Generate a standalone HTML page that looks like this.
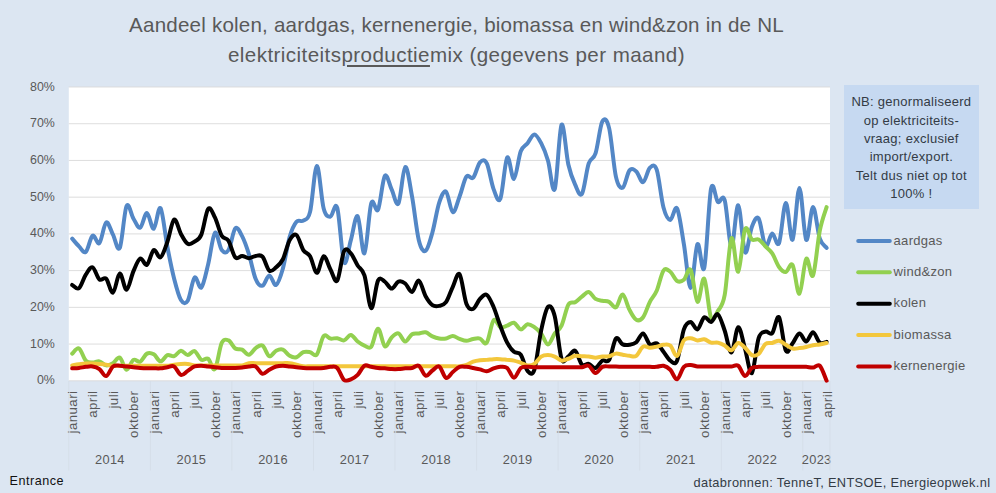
<!DOCTYPE html>
<html><head><meta charset="utf-8"><title>chart</title>
<style>
html,body{margin:0;padding:0;background:#dce6f2;}
body{width:996px;height:493px;position:relative;overflow:hidden;font-family:"Liberation Sans",sans-serif;}
svg text{font-family:"Liberation Sans",sans-serif;}
.title{position:absolute;left:0;width:913px;text-align:center;color:#595959;font-size:20.6px;line-height:24px;white-space:nowrap;}
.title u{text-decoration-thickness:1.5px;text-underline-offset:2.5px;}
.t1{top:13.3px;letter-spacing:0.19px;}
.t2{top:42.5px;letter-spacing:0.42px;}
.note{position:absolute;left:844px;top:85.3px;width:134.7px;height:123.7px;background:#c6d9f1;color:#333b45;font-size:13px;letter-spacing:0.28px;line-height:18.4px;text-align:center;box-sizing:border-box;padding-top:7.8px;white-space:nowrap;}
.ent{position:absolute;left:9.6px;top:474px;font-size:12.6px;line-height:15px;letter-spacing:0.5px;color:#111;}
.src{position:absolute;left:693.5px;top:474.6px;font-size:12.8px;line-height:15px;letter-spacing:0.35px;color:#333b45;white-space:nowrap;}
</style></head><body>
<svg width="996" height="493" viewBox="0 0 996 493" style="position:absolute;left:0;top:0">
<rect x="0" y="0" width="996" height="493" fill="#dce6f2"/>
<rect x="68.8" y="87.0" width="761.2" height="293.8" fill="#ffffff"/>
<line x1="68.8" y1="380.80" x2="830.0" y2="380.80" stroke="#d9d9d9" stroke-width="0.9"/>
<line x1="68.8" y1="344.07" x2="830.0" y2="344.07" stroke="#d9d9d9" stroke-width="0.9"/>
<line x1="68.8" y1="307.35" x2="830.0" y2="307.35" stroke="#d9d9d9" stroke-width="0.9"/>
<line x1="68.8" y1="270.62" x2="830.0" y2="270.62" stroke="#d9d9d9" stroke-width="0.9"/>
<line x1="68.8" y1="233.90" x2="830.0" y2="233.90" stroke="#d9d9d9" stroke-width="0.9"/>
<line x1="68.8" y1="197.18" x2="830.0" y2="197.18" stroke="#d9d9d9" stroke-width="0.9"/>
<line x1="68.8" y1="160.45" x2="830.0" y2="160.45" stroke="#d9d9d9" stroke-width="0.9"/>
<line x1="68.8" y1="123.73" x2="830.0" y2="123.73" stroke="#d9d9d9" stroke-width="0.9"/>
<line x1="68.8" y1="87.00" x2="830.0" y2="87.00" stroke="#d9d9d9" stroke-width="0.9"/>
<text x="54.8" y="384.3" text-anchor="end" font-size="12.4" fill="#595959">0%</text>
<text x="54.8" y="347.6" text-anchor="end" font-size="12.4" fill="#595959">10%</text>
<text x="54.8" y="310.9" text-anchor="end" font-size="12.4" fill="#595959">20%</text>
<text x="54.8" y="274.1" text-anchor="end" font-size="12.4" fill="#595959">30%</text>
<text x="54.8" y="237.4" text-anchor="end" font-size="12.4" fill="#595959">40%</text>
<text x="54.8" y="200.7" text-anchor="end" font-size="12.4" fill="#595959">50%</text>
<text x="54.8" y="164.0" text-anchor="end" font-size="12.4" fill="#595959">60%</text>
<text x="54.8" y="127.2" text-anchor="end" font-size="12.4" fill="#595959">70%</text>
<text x="54.8" y="90.5" text-anchor="end" font-size="12.4" fill="#595959">80%</text>
<defs><clipPath id="cp"><rect x="65.8" y="84.0" width="767.2" height="298.8"/></clipPath></defs>
<g fill="none" stroke-linecap="round" stroke-linejoin="round" stroke-width="4.0" clip-path="url(#cp)">
<path d="M72.20 238.67C73.33 239.96 76.73 244.18 78.99 246.39C81.26 248.59 83.53 253.67 85.79 251.90C88.06 250.12 90.32 237.21 92.59 235.74C94.85 234.27 97.12 245.28 99.38 243.08C101.65 240.88 103.91 223.92 106.18 222.52C108.45 221.11 110.71 230.41 112.98 234.63C115.24 238.86 117.51 252.63 119.77 247.86C122.04 243.08 124.30 210.89 126.57 205.99C128.84 201.09 131.10 214.86 133.37 218.48C135.63 222.09 137.90 228.57 140.16 227.66C142.43 226.74 144.69 212.78 146.96 212.97C149.22 213.15 151.49 229.55 153.76 228.76C156.02 227.96 158.29 205.19 160.55 208.19C162.82 211.19 165.08 235.00 167.35 246.75C169.61 258.51 171.88 269.83 174.14 278.70C176.41 287.58 178.68 296.33 180.94 300.00C183.21 303.68 185.47 304.47 187.74 300.74C190.00 297.01 192.27 279.81 194.53 277.60C196.80 275.40 199.06 289.72 201.33 287.52C203.60 285.31 205.86 273.50 208.13 264.38C210.39 255.26 212.66 235.19 214.92 232.80C217.19 230.41 219.45 247.18 221.72 250.06C223.99 252.94 226.25 253.67 228.52 250.06C230.78 246.45 233.05 230.72 235.31 228.39C237.58 226.07 239.84 231.82 242.11 236.10C244.37 240.39 246.64 246.94 248.91 254.10C251.17 261.26 253.44 273.81 255.70 279.07C257.97 284.34 260.23 286.29 262.50 285.68C264.76 285.07 267.03 275.52 269.29 275.40C271.56 275.28 273.83 286.11 276.09 284.95C278.36 283.78 280.62 276.44 282.89 268.42C285.15 260.40 287.42 244.61 289.68 236.84C291.95 229.06 294.21 224.47 296.48 221.78C298.75 219.09 301.01 222.33 303.28 220.68C305.54 219.03 307.81 220.99 310.07 211.87C312.34 202.74 314.60 166.51 316.87 165.96C319.14 165.41 321.40 200.11 323.67 208.56C325.93 217.01 328.20 216.76 330.46 216.64C332.73 216.52 334.99 200.24 337.26 207.83C339.52 215.42 341.79 256.79 344.06 262.18C346.32 267.56 348.59 247.79 350.85 240.14C353.12 232.49 355.38 214.07 357.65 216.27C359.91 218.48 362.18 255.51 364.44 253.36C366.71 251.22 368.98 210.70 371.24 203.42C373.51 196.13 375.77 214.25 378.04 209.66C380.30 205.07 382.57 179.24 384.83 175.87C387.10 172.51 389.36 184.87 391.63 189.46C393.90 194.05 396.16 207.15 398.43 203.42C400.69 199.68 402.96 168.22 405.22 167.06C407.49 165.90 409.75 184.26 412.02 196.44C414.29 208.62 416.55 231.08 418.82 240.14C421.08 249.20 423.35 252.08 425.61 250.79C427.88 249.51 430.14 240.45 432.41 232.43C434.67 224.41 436.94 209.48 439.21 202.68C441.47 195.89 443.74 190.07 446.00 191.67C448.27 193.26 450.53 211.44 452.80 212.23C455.06 213.03 457.33 202.38 459.59 196.44C461.86 190.50 464.13 179.73 466.39 176.61C468.66 173.49 470.92 180.10 473.19 177.71C475.45 175.32 477.72 164.67 479.98 162.29C482.25 159.90 484.51 158.92 486.78 163.39C489.05 167.86 491.31 183.22 493.58 189.10C495.84 194.97 498.11 203.91 500.37 198.64C502.64 193.38 504.90 160.82 507.17 157.51C509.44 154.21 511.70 179.85 513.97 178.81C516.23 177.77 518.50 157.21 520.76 151.27C523.03 145.33 525.29 146.00 527.56 143.19C529.82 140.37 532.09 134.38 534.36 134.38C536.62 134.38 538.89 138.84 541.15 143.19C543.42 147.54 545.68 152.80 547.95 160.45C550.21 168.10 552.48 195.03 554.74 189.10C557.01 183.16 559.28 128.93 561.54 124.83C563.81 120.73 566.07 154.51 568.34 164.49C570.60 174.47 572.87 179.79 575.13 184.69C577.40 189.59 579.66 197.42 581.93 193.87C584.20 190.32 586.46 170.12 588.73 163.39C590.99 156.66 593.26 160.45 595.52 153.47C597.79 146.49 600.05 125.74 602.32 121.52C604.59 117.30 606.85 118.95 609.12 128.13C611.38 137.31 613.65 166.69 615.91 176.61C618.18 186.52 620.44 188.67 622.71 187.63C624.97 186.59 627.24 173.06 629.51 170.37C631.77 167.67 634.04 169.51 636.30 171.47C638.57 173.43 640.83 182.73 643.10 182.12C645.36 181.51 647.63 169.88 649.89 167.79C652.16 165.71 654.43 163.02 656.69 169.63C658.96 176.24 661.22 199.07 663.49 207.46C665.75 215.84 668.02 219.76 670.28 219.94C672.55 220.13 674.81 204.52 677.08 208.56C679.35 212.60 681.61 230.96 683.88 244.18C686.14 257.40 688.41 287.89 690.67 287.89C692.94 287.89 695.20 247.55 697.47 244.18C699.74 240.82 702.00 276.93 704.27 267.69C706.53 258.44 708.80 199.68 711.06 188.73C713.33 177.77 715.59 200.05 717.86 201.95C720.12 203.85 722.39 192.71 724.66 200.11C726.92 207.52 729.19 245.53 731.45 246.39C733.72 247.24 735.98 204.28 738.25 205.25C740.51 206.23 742.78 248.65 745.04 252.26C747.31 255.87 749.58 232.55 751.84 226.92C754.11 221.29 756.37 215.29 758.64 218.48C760.90 221.66 763.17 243.51 765.43 246.02C767.70 248.53 769.96 234.02 772.23 233.53C774.50 233.04 776.76 248.16 779.03 243.08C781.29 238.00 783.56 203.60 785.82 203.05C788.09 202.50 790.35 242.29 792.62 239.78C794.89 237.27 797.15 187.99 799.42 187.99C801.68 187.99 803.95 236.59 806.21 239.78C808.48 242.96 810.74 207.27 813.01 207.09C815.27 206.91 817.54 231.88 819.81 238.67C822.07 245.47 825.47 246.33 826.60 247.86" stroke="#5387c6"/>
<path d="M72.20 353.62C73.33 352.77 76.73 347.32 78.99 348.48C81.26 349.64 83.53 358.28 85.79 360.60C88.06 362.93 90.32 362.32 92.59 362.44C94.85 362.56 97.12 360.85 99.38 361.34C101.65 361.83 103.91 365.07 106.18 365.38C108.45 365.68 110.71 364.46 112.98 363.17C115.24 361.89 117.51 356.56 119.77 357.66C122.04 358.76 124.30 369.42 126.57 369.78C128.84 370.15 131.10 361.21 133.37 359.87C135.63 358.52 137.90 362.74 140.16 361.70C142.43 360.66 144.69 354.85 146.96 353.62C149.22 352.40 151.49 353.07 153.76 354.36C156.02 355.64 158.29 361.21 160.55 361.34C162.82 361.46 165.08 355.95 167.35 355.09C169.61 354.24 171.88 356.93 174.14 356.19C176.41 355.46 178.68 350.87 180.94 350.69C183.21 350.50 185.47 355.03 187.74 355.09C190.00 355.15 192.27 350.26 194.53 351.05C196.80 351.85 199.06 358.58 201.33 359.87C203.60 361.15 205.86 357.23 208.13 358.76C210.39 360.30 212.66 371.68 214.92 369.05C217.19 366.42 219.45 347.75 221.72 342.97C223.99 338.20 226.25 339.48 228.52 340.40C230.78 341.32 233.05 346.95 235.31 348.48C237.58 350.01 239.84 348.54 242.11 349.58C244.37 350.62 246.64 354.97 248.91 354.73C251.17 354.48 253.44 349.64 255.70 348.11C257.97 346.58 260.23 344.20 262.50 345.54C264.76 346.89 267.03 355.34 269.29 356.19C271.56 357.05 273.83 351.79 276.09 350.69C278.36 349.58 280.62 348.73 282.89 349.58C285.15 350.44 287.42 354.54 289.68 355.83C291.95 357.11 294.21 357.91 296.48 357.30C298.75 356.68 301.01 353.01 303.28 352.15C305.54 351.30 307.81 351.79 310.07 352.15C312.34 352.52 314.60 357.05 316.87 354.36C319.14 351.66 321.40 338.63 323.67 336.00C325.93 333.36 328.20 338.20 330.46 338.57C332.73 338.93 334.99 337.89 337.26 338.20C339.52 338.51 341.79 340.95 344.06 340.40C346.32 339.85 348.59 334.71 350.85 334.89C353.12 335.08 355.38 339.73 357.65 341.50C359.91 343.28 362.18 344.69 364.44 345.54C366.71 346.40 368.98 349.46 371.24 346.65C373.51 343.83 375.77 328.71 378.04 328.65C380.30 328.59 382.57 344.81 384.83 346.28C387.10 347.75 389.36 339.61 391.63 337.46C393.90 335.32 396.16 332.75 398.43 333.42C400.69 334.10 402.96 341.38 405.22 341.50C407.49 341.63 409.75 335.51 412.02 334.16C414.29 332.81 416.55 333.73 418.82 333.42C421.08 333.12 423.35 331.83 425.61 332.32C427.88 332.81 430.14 335.32 432.41 336.36C434.67 337.40 436.94 338.20 439.21 338.57C441.47 338.93 443.74 338.99 446.00 338.57C448.27 338.14 450.53 335.93 452.80 336.00C455.06 336.06 457.33 338.14 459.59 338.93C461.86 339.73 464.13 340.77 466.39 340.77C468.66 340.77 470.92 339.30 473.19 338.93C475.45 338.57 477.72 337.95 479.98 338.57C482.25 339.18 484.51 345.67 486.78 342.61C489.05 339.55 491.31 322.77 493.58 320.20C495.84 317.63 498.11 326.26 500.37 327.18C502.64 328.10 504.90 326.45 507.17 325.71C509.44 324.98 511.70 322.16 513.97 322.77C516.23 323.39 518.50 329.14 520.76 329.38C523.03 329.63 525.29 324.61 527.56 324.24C529.82 323.88 532.09 325.65 534.36 327.18C536.62 328.71 538.89 330.55 541.15 333.42C543.42 336.30 545.68 344.44 547.95 344.44C550.21 344.44 552.48 336.55 554.74 333.42C557.01 330.30 559.28 330.49 561.54 325.71C563.81 320.94 566.07 308.70 568.34 304.78C570.60 300.86 572.87 303.56 575.13 302.21C577.40 300.86 579.66 298.41 581.93 296.70C584.20 294.99 586.46 291.56 588.73 291.93C590.99 292.29 593.26 297.43 595.52 298.90C597.79 300.37 600.05 300.25 602.32 300.74C604.59 301.23 606.85 300.74 609.12 301.84C611.38 302.94 613.65 308.57 615.91 307.35C618.18 306.13 620.44 294.07 622.71 294.50C624.97 294.92 627.24 305.70 629.51 309.92C631.77 314.14 634.04 318.61 636.30 319.84C638.57 321.06 640.83 320.26 643.10 317.27C645.36 314.27 647.63 306.25 649.89 301.84C652.16 297.43 654.43 296.03 656.69 290.82C658.96 285.62 661.22 273.81 663.49 270.62C665.75 267.44 668.02 270.01 670.28 271.73C672.55 273.44 674.81 279.56 677.08 280.91C679.35 282.25 681.61 281.64 683.88 279.81C686.14 277.97 688.41 266.22 690.67 269.89C692.94 273.56 695.20 300.37 697.47 301.84C699.74 303.31 702.00 276.01 704.27 278.70C706.53 281.40 708.80 312.61 711.06 318.00C713.33 323.39 715.59 314.82 717.86 311.02C720.12 307.23 722.39 307.35 724.66 295.23C726.92 283.11 729.19 242.22 731.45 238.31C733.72 234.39 735.98 273.26 738.25 271.73C740.51 270.20 742.78 234.51 745.04 229.13C747.31 223.74 749.58 237.69 751.84 239.41C754.11 241.12 756.37 238.25 758.64 239.41C760.90 240.57 763.17 244.06 765.43 246.39C767.70 248.71 769.96 249.94 772.23 253.36C774.50 256.79 776.76 263.83 779.03 266.95C781.29 270.07 783.56 272.40 785.82 272.09C788.09 271.79 790.35 261.50 792.62 265.12C794.89 268.73 797.15 294.80 799.42 293.76C801.68 292.72 803.95 261.93 806.21 258.87C808.48 255.81 810.74 280.11 813.01 275.40C815.27 270.69 817.54 241.98 819.81 230.59C822.07 219.21 825.47 211.01 826.60 207.09" stroke="#92d050"/>
<path d="M72.20 284.95C73.33 285.50 76.73 289.97 78.99 288.25C81.26 286.54 83.53 278.15 85.79 274.66C88.06 271.18 90.32 266.52 92.59 267.32C94.85 268.12 97.12 277.54 99.38 279.44C101.65 281.34 103.91 276.50 106.18 278.70C108.45 280.91 110.71 293.52 112.98 292.66C115.24 291.80 117.51 274.05 119.77 273.56C122.04 273.07 124.30 290.09 126.57 289.72C128.84 289.35 131.10 276.56 133.37 271.36C135.63 266.16 137.90 259.61 140.16 258.51C142.43 257.40 144.69 266.16 146.96 264.75C149.22 263.34 151.49 251.28 153.76 250.06C156.02 248.83 158.29 258.75 160.55 257.40C162.82 256.06 165.08 248.28 167.35 241.98C169.61 235.68 171.88 220.92 174.14 219.58C176.41 218.23 178.68 229.86 180.94 233.90C183.21 237.94 185.47 242.53 187.74 243.82C190.00 245.10 192.27 243.14 194.53 241.61C196.80 240.08 199.06 240.08 201.33 234.63C203.60 229.19 205.86 211.80 208.13 208.93C210.39 206.05 212.66 212.91 214.92 217.37C217.19 221.84 219.45 231.82 221.72 235.74C223.99 239.65 226.25 237.27 228.52 240.88C230.78 244.49 233.05 254.89 235.31 257.40C237.58 259.91 239.84 255.81 242.11 255.94C244.37 256.06 246.64 258.14 248.91 258.14C251.17 258.14 253.44 256.18 255.70 255.94C257.97 255.69 260.23 254.22 262.50 256.67C264.76 259.12 267.03 268.85 269.29 270.62C271.56 272.40 273.83 269.22 276.09 267.32C278.36 265.42 280.62 263.77 282.89 259.24C285.15 254.71 287.42 244.18 289.68 240.14C291.95 236.10 294.21 233.35 296.48 235.00C298.75 236.65 301.01 246.51 303.28 250.06C305.54 253.61 307.81 252.51 310.07 256.30C312.34 260.10 314.60 272.83 316.87 272.83C319.14 272.83 321.40 256.85 323.67 256.30C325.93 255.75 328.20 265.48 330.46 269.52C332.73 273.56 334.99 283.60 337.26 280.54C339.52 277.48 341.79 255.69 344.06 251.16C346.32 246.63 348.59 250.98 350.85 253.36C353.12 255.75 355.38 261.81 357.65 265.48C359.91 269.16 362.18 268.30 364.44 275.40C366.71 282.50 368.98 307.23 371.24 308.08C373.51 308.94 375.77 284.95 378.04 280.54C380.30 276.13 382.57 280.30 384.83 281.64C387.10 282.99 389.36 288.62 391.63 288.62C393.90 288.62 396.16 282.50 398.43 281.64C400.69 280.79 402.96 281.76 405.22 283.48C407.49 285.19 409.75 292.42 412.02 291.93C414.29 291.44 416.55 279.81 418.82 280.54C421.08 281.28 423.35 292.23 425.61 296.33C427.88 300.43 430.14 303.56 432.41 305.15C434.67 306.74 436.94 306.37 439.21 305.88C441.47 305.39 443.74 305.39 446.00 302.21C448.27 299.03 450.53 291.44 452.80 286.78C455.06 282.13 457.33 271.48 459.59 274.30C461.86 277.11 464.13 297.92 466.39 303.68C468.66 309.43 470.92 309.61 473.19 308.82C475.45 308.02 477.72 301.23 479.98 298.90C482.25 296.58 484.51 293.52 486.78 294.86C489.05 296.21 491.31 301.78 493.58 306.98C495.84 312.19 498.11 320.14 500.37 326.08C502.64 332.02 504.90 338.32 507.17 342.61C509.44 346.89 511.70 349.77 513.97 351.79C516.23 353.81 518.50 351.54 520.76 354.73C523.03 357.91 525.29 368.37 527.56 370.88C529.82 373.39 532.09 376.52 534.36 369.78C536.62 363.05 538.89 340.95 541.15 330.49C543.42 320.02 545.68 309.37 547.95 306.98C550.21 304.60 552.48 307.53 554.74 316.16C557.01 324.79 559.28 352.03 561.54 358.76C563.81 365.50 566.07 357.91 568.34 356.56C570.60 355.21 572.87 349.34 575.13 350.69C577.40 352.03 579.66 362.44 581.93 364.64C584.20 366.84 586.46 363.36 588.73 363.91C590.99 364.46 593.26 368.50 595.52 367.95C597.79 367.40 600.05 361.95 602.32 360.60C604.59 359.25 606.85 363.54 609.12 359.87C611.38 356.19 613.65 341.14 615.91 338.57C618.18 336.00 620.44 343.40 622.71 344.44C624.97 345.48 627.24 345.18 629.51 344.81C631.77 344.44 634.04 344.14 636.30 342.24C638.57 340.34 640.83 333.06 643.10 333.42C645.36 333.79 647.63 342.79 649.89 344.44C652.16 346.09 654.43 342.12 656.69 343.34C658.96 344.56 661.22 348.91 663.49 351.79C665.75 354.66 668.02 359.13 670.28 360.60C672.55 362.07 674.81 365.80 677.08 360.60C679.35 355.40 681.61 335.81 683.88 329.38C686.14 322.96 688.41 322.04 690.67 322.04C692.94 322.04 695.20 330.18 697.47 329.38C699.74 328.59 702.00 318.49 704.27 317.27C706.53 316.04 708.80 322.53 711.06 322.04C713.33 321.55 715.59 312.92 717.86 314.33C720.12 315.74 722.39 324.12 724.66 330.49C726.92 336.85 729.19 353.07 731.45 352.52C733.72 351.97 735.98 327.79 738.25 327.18C740.51 326.57 742.78 341.20 745.04 348.85C747.31 356.50 749.58 374.86 751.84 373.09C754.11 371.31 756.37 345.12 758.64 338.20C760.90 331.28 763.17 332.45 765.43 331.59C767.70 330.73 769.96 335.44 772.23 333.06C774.50 330.67 776.76 314.33 779.03 317.27C781.29 320.20 783.56 346.34 785.82 350.69C788.09 355.03 790.35 346.22 792.62 343.34C794.89 340.46 797.15 333.73 799.42 333.42C801.68 333.12 803.95 341.69 806.21 341.50C808.48 341.32 810.74 332.14 813.01 332.32C815.27 332.51 817.54 341.01 819.81 342.61C822.07 344.20 825.47 341.99 826.60 341.87" stroke="#000000"/>
<path d="M72.20 365.38C73.33 365.19 76.73 364.58 78.99 364.27C81.26 363.97 83.53 363.66 85.79 363.54C88.06 363.42 90.32 363.48 92.59 363.54C94.85 363.60 97.12 363.72 99.38 363.91C101.65 364.09 103.91 364.33 106.18 364.64C108.45 364.95 110.71 365.56 112.98 365.74C115.24 365.93 117.51 365.74 119.77 365.74C122.04 365.74 124.30 365.74 126.57 365.74C128.84 365.74 131.10 365.74 133.37 365.74C135.63 365.74 137.90 365.74 140.16 365.74C142.43 365.74 144.69 365.74 146.96 365.74C149.22 365.74 151.49 365.74 153.76 365.74C156.02 365.74 158.29 365.74 160.55 365.74C162.82 365.74 165.08 365.93 167.35 365.74C169.61 365.56 171.88 364.95 174.14 364.64C176.41 364.33 178.68 364.03 180.94 363.91C183.21 363.78 185.47 363.66 187.74 363.91C190.00 364.15 192.27 365.13 194.53 365.38C196.80 365.62 199.06 365.38 201.33 365.38C203.60 365.38 205.86 365.38 208.13 365.38C210.39 365.38 212.66 365.38 214.92 365.38C217.19 365.38 219.45 365.38 221.72 365.38C223.99 365.38 226.25 365.38 228.52 365.38C230.78 365.38 233.05 365.38 235.31 365.38C237.58 365.38 239.84 365.74 242.11 365.38C244.37 365.01 246.64 363.54 248.91 363.17C251.17 362.80 253.44 363.17 255.70 363.17C257.97 363.17 260.23 363.17 262.50 363.17C264.76 363.17 267.03 363.17 269.29 363.17C271.56 363.17 273.83 363.17 276.09 363.17C278.36 363.17 280.62 363.17 282.89 363.17C285.15 363.17 287.42 362.93 289.68 363.17C291.95 363.42 294.21 364.12 296.48 364.64C298.75 365.16 301.01 366.02 303.28 366.29C305.54 366.57 307.81 366.29 310.07 366.29C312.34 366.29 314.60 366.29 316.87 366.29C319.14 366.29 321.40 366.29 323.67 366.29C325.93 366.29 328.20 366.29 330.46 366.29C332.73 366.29 334.99 366.29 337.26 366.29C339.52 366.29 341.79 366.29 344.06 366.29C346.32 366.29 348.59 366.29 350.85 366.29C353.12 366.29 355.38 366.29 357.65 366.29C359.91 366.29 362.18 366.29 364.44 366.29C366.71 366.29 368.98 366.29 371.24 366.29C373.51 366.29 375.77 366.29 378.04 366.29C380.30 366.29 382.57 366.29 384.83 366.29C387.10 366.29 389.36 366.29 391.63 366.29C393.90 366.29 396.16 366.29 398.43 366.29C400.69 366.29 402.96 366.29 405.22 366.29C407.49 366.29 409.75 366.29 412.02 366.29C414.29 366.29 416.55 366.29 418.82 366.29C421.08 366.29 423.35 366.29 425.61 366.29C427.88 366.29 430.14 366.29 432.41 366.29C434.67 366.29 436.94 366.29 439.21 366.29C441.47 366.29 443.74 366.29 446.00 366.29C448.27 366.29 450.53 366.29 452.80 366.29C455.06 366.29 457.33 366.51 459.59 366.29C461.86 366.08 464.13 365.77 466.39 365.01C468.66 364.24 470.92 362.50 473.19 361.70C475.45 360.91 477.72 360.54 479.98 360.23C482.25 359.93 484.51 360.05 486.78 359.87C489.05 359.68 491.31 359.25 493.58 359.13C495.84 359.01 498.11 359.01 500.37 359.13C502.64 359.25 504.90 359.62 507.17 359.87C509.44 360.11 511.70 360.11 513.97 360.60C516.23 361.09 518.50 362.01 520.76 362.80C523.03 363.60 525.29 365.19 527.56 365.38C529.82 365.56 532.09 365.38 534.36 363.91C536.62 362.44 538.89 358.03 541.15 356.56C543.42 355.09 545.68 355.09 547.95 355.09C550.21 355.09 552.48 355.64 554.74 356.56C557.01 357.48 559.28 360.23 561.54 360.60C563.81 360.97 566.07 359.56 568.34 358.76C570.60 357.97 572.87 356.26 575.13 355.83C577.40 355.40 579.66 356.07 581.93 356.19C584.20 356.32 586.46 356.32 588.73 356.56C590.99 356.81 593.26 357.66 595.52 357.66C597.79 357.66 600.05 356.81 602.32 356.56C604.59 356.32 606.85 356.68 609.12 356.19C611.38 355.70 613.65 353.87 615.91 353.62C618.18 353.38 620.44 354.36 622.71 354.73C624.97 355.09 627.24 355.64 629.51 355.83C631.77 356.01 634.04 357.36 636.30 355.83C638.57 354.30 640.83 347.99 643.10 346.65C645.36 345.30 647.63 347.75 649.89 347.75C652.16 347.75 654.43 347.14 656.69 346.65C658.96 346.16 661.22 344.99 663.49 344.81C665.75 344.63 668.02 343.71 670.28 345.54C672.55 347.38 674.81 356.68 677.08 355.83C679.35 354.97 681.61 343.34 683.88 340.40C686.14 337.46 688.41 338.20 690.67 338.20C692.94 338.20 695.20 340.22 697.47 340.40C699.74 340.59 702.00 338.93 704.27 339.30C706.53 339.67 708.80 342.06 711.06 342.61C713.33 343.16 715.59 342.12 717.86 342.61C720.12 343.10 722.39 344.26 724.66 345.54C726.92 346.83 729.19 350.75 731.45 350.32C733.72 349.89 735.98 343.40 738.25 342.97C740.51 342.54 742.78 345.73 745.04 347.75C747.31 349.77 749.58 354.05 751.84 355.09C754.11 356.13 756.37 355.83 758.64 353.99C760.90 352.15 763.17 345.91 765.43 344.07C767.70 342.24 769.96 343.52 772.23 342.97C774.50 342.42 776.76 340.46 779.03 340.77C781.29 341.08 783.56 343.52 785.82 344.81C788.09 346.09 790.35 347.93 792.62 348.48C794.89 349.03 797.15 348.36 799.42 348.11C801.68 347.87 803.95 347.50 806.21 347.01C808.48 346.52 810.74 345.61 813.01 345.18C815.27 344.75 817.54 344.81 819.81 344.44C822.07 344.07 825.47 343.22 826.60 342.97" stroke="#f3c73c"/>
<path d="M72.20 368.31C73.33 368.25 76.73 368.19 78.99 367.95C81.26 367.70 83.53 367.09 85.79 366.84C88.06 366.60 90.32 366.11 92.59 366.48C94.85 366.84 97.12 367.46 99.38 369.05C101.65 370.64 103.91 376.45 106.18 376.03C108.45 375.60 110.71 368.19 112.98 366.48C115.24 364.76 117.51 365.74 119.77 365.74C122.04 365.74 124.30 366.23 126.57 366.48C128.84 366.72 131.10 366.97 133.37 367.21C135.63 367.46 137.90 367.76 140.16 367.95C142.43 368.13 144.69 368.25 146.96 368.31C149.22 368.37 151.49 368.31 153.76 368.31C156.02 368.31 158.29 368.50 160.55 368.31C162.82 368.13 165.08 367.52 167.35 367.21C169.61 366.91 171.88 365.19 174.14 366.48C176.41 367.76 178.68 374.19 180.94 374.92C183.21 375.66 185.47 372.29 187.74 370.88C190.00 369.48 192.27 367.33 194.53 366.48C196.80 365.62 199.06 365.74 201.33 365.74C203.60 365.74 205.86 366.23 208.13 366.48C210.39 366.72 212.66 366.97 214.92 367.21C217.19 367.46 219.45 367.82 221.72 367.95C223.99 368.07 226.25 367.95 228.52 367.95C230.78 367.95 233.05 368.01 235.31 367.95C237.58 367.89 239.84 367.82 242.11 367.58C244.37 367.33 246.64 366.66 248.91 366.48C251.17 366.29 253.44 365.25 255.70 366.48C257.97 367.70 260.23 373.27 262.50 373.82C264.76 374.37 267.03 371.01 269.29 369.78C271.56 368.56 273.83 367.15 276.09 366.48C278.36 365.80 280.62 365.74 282.89 365.74C285.15 365.74 287.42 366.23 289.68 366.48C291.95 366.72 294.21 366.97 296.48 367.21C298.75 367.46 301.01 367.76 303.28 367.95C305.54 368.13 307.81 368.25 310.07 368.31C312.34 368.37 314.60 368.37 316.87 368.31C319.14 368.25 321.40 368.19 323.67 367.95C325.93 367.70 328.20 366.84 330.46 366.84C332.73 366.84 334.99 365.74 337.26 367.95C339.52 370.15 341.79 378.17 344.06 380.07C346.32 381.96 348.59 380.19 350.85 379.33C353.12 378.47 355.38 377.19 357.65 374.92C359.91 372.66 362.18 367.09 364.44 365.74C366.71 364.40 368.98 366.48 371.24 366.84C373.51 367.21 375.77 367.70 378.04 367.95C380.30 368.19 382.57 368.13 384.83 368.31C387.10 368.50 389.36 368.93 391.63 369.05C393.90 369.17 396.16 369.17 398.43 369.05C400.69 368.93 402.96 368.50 405.22 368.31C407.49 368.13 409.75 368.37 412.02 367.95C414.29 367.52 416.55 364.46 418.82 365.74C421.08 367.03 423.35 374.86 425.61 375.66C427.88 376.45 430.14 372.05 432.41 370.52C434.67 368.99 436.94 365.25 439.21 366.48C441.47 367.70 443.74 376.94 446.00 377.86C448.27 378.78 450.53 373.82 452.80 371.99C455.06 370.15 457.33 367.70 459.59 366.84C461.86 365.99 464.13 366.66 466.39 366.84C468.66 367.03 470.92 367.52 473.19 367.95C475.45 368.37 477.72 368.86 479.98 369.42C482.25 369.97 484.51 371.44 486.78 371.25C489.05 371.07 491.31 369.05 493.58 368.31C495.84 367.58 498.11 366.91 500.37 366.84C502.64 366.78 504.90 366.11 507.17 367.95C509.44 369.78 511.70 377.86 513.97 377.86C516.23 377.86 518.50 369.78 520.76 367.95C523.03 366.11 525.29 366.97 527.56 366.84C529.82 366.72 532.09 367.15 534.36 367.21C536.62 367.27 538.89 367.21 541.15 367.21C543.42 367.21 545.68 367.21 547.95 367.21C550.21 367.21 552.48 367.21 554.74 367.21C557.01 367.21 559.28 367.21 561.54 367.21C563.81 367.21 566.07 367.21 568.34 367.21C570.60 367.21 572.87 367.21 575.13 367.21C577.40 367.21 579.66 367.46 581.93 367.21C584.20 366.97 586.46 364.76 588.73 365.74C590.99 366.72 593.26 372.90 595.52 373.09C597.79 373.27 600.05 367.95 602.32 366.84C604.59 365.74 606.85 366.54 609.12 366.48C611.38 366.42 613.65 366.42 615.91 366.48C618.18 366.54 620.44 366.78 622.71 366.84C624.97 366.91 627.24 366.84 629.51 366.84C631.77 366.84 634.04 366.84 636.30 366.84C638.57 366.84 640.83 366.84 643.10 366.84C645.36 366.84 647.63 366.84 649.89 366.84C652.16 366.84 654.43 367.03 656.69 366.84C658.96 366.66 661.22 365.25 663.49 365.74C665.75 366.23 668.02 367.52 670.28 369.78C672.55 372.05 674.81 379.82 677.08 379.33C679.35 378.84 681.61 369.23 683.88 366.84C686.14 364.46 688.41 365.07 690.67 365.01C692.94 364.95 695.20 366.23 697.47 366.48C699.74 366.72 702.00 366.48 704.27 366.48C706.53 366.48 708.80 366.48 711.06 366.48C713.33 366.48 715.59 366.48 717.86 366.48C720.12 366.48 722.39 366.48 724.66 366.48C726.92 366.48 729.19 366.60 731.45 366.48C733.72 366.35 735.98 364.15 738.25 365.74C740.51 367.33 742.78 375.66 745.04 376.03C747.31 376.39 749.58 369.48 751.84 367.95C754.11 366.42 756.37 367.03 758.64 366.84C760.90 366.66 763.17 366.84 765.43 366.84C767.70 366.84 769.96 366.84 772.23 366.84C774.50 366.84 776.76 366.84 779.03 366.84C781.29 366.84 783.56 366.84 785.82 366.84C788.09 366.84 790.35 366.84 792.62 366.84C794.89 366.84 797.15 366.84 799.42 366.84C801.68 366.84 803.95 366.72 806.21 366.84C808.48 366.97 810.74 367.76 813.01 367.58C815.27 367.40 817.54 363.54 819.81 365.74C822.07 367.95 825.47 378.29 826.60 380.80" stroke="#c00000"/>
</g>
<line x1="68.8" y1="381" x2="68.8" y2="470.5" stroke="#d5dee9" stroke-width="1"/>
<text x="109.9" y="463.9" text-anchor="middle" font-size="12.8" letter-spacing="0.3" fill="#595959">2014</text>
<line x1="150.4" y1="381" x2="150.4" y2="470.5" stroke="#d5dee9" stroke-width="1"/>
<text x="191.4" y="463.9" text-anchor="middle" font-size="12.8" letter-spacing="0.3" fill="#595959">2015</text>
<line x1="231.9" y1="381" x2="231.9" y2="470.5" stroke="#d5dee9" stroke-width="1"/>
<text x="273.0" y="463.9" text-anchor="middle" font-size="12.8" letter-spacing="0.3" fill="#595959">2016</text>
<line x1="313.5" y1="381" x2="313.5" y2="470.5" stroke="#d5dee9" stroke-width="1"/>
<text x="354.6" y="463.9" text-anchor="middle" font-size="12.8" letter-spacing="0.3" fill="#595959">2017</text>
<line x1="395.0" y1="381" x2="395.0" y2="470.5" stroke="#d5dee9" stroke-width="1"/>
<text x="436.1" y="463.9" text-anchor="middle" font-size="12.8" letter-spacing="0.3" fill="#595959">2018</text>
<line x1="476.6" y1="381" x2="476.6" y2="470.5" stroke="#d5dee9" stroke-width="1"/>
<text x="517.7" y="463.9" text-anchor="middle" font-size="12.8" letter-spacing="0.3" fill="#595959">2019</text>
<line x1="558.1" y1="381" x2="558.1" y2="470.5" stroke="#d5dee9" stroke-width="1"/>
<text x="599.2" y="463.9" text-anchor="middle" font-size="12.8" letter-spacing="0.3" fill="#595959">2020</text>
<line x1="639.7" y1="381" x2="639.7" y2="470.5" stroke="#d5dee9" stroke-width="1"/>
<text x="680.8" y="463.9" text-anchor="middle" font-size="12.8" letter-spacing="0.3" fill="#595959">2021</text>
<line x1="721.3" y1="381" x2="721.3" y2="470.5" stroke="#d5dee9" stroke-width="1"/>
<text x="762.3" y="463.9" text-anchor="middle" font-size="12.8" letter-spacing="0.3" fill="#595959">2022</text>
<line x1="802.8" y1="381" x2="802.8" y2="470.5" stroke="#d5dee9" stroke-width="1"/>
<text x="816.7" y="463.9" text-anchor="middle" font-size="12.8" letter-spacing="0.3" fill="#595959">2023</text>
<line x1="830.0" y1="381" x2="830.0" y2="470.5" stroke="#d5dee9" stroke-width="1"/>
<text transform="translate(77.10,390.6) rotate(-90)" text-anchor="end" font-size="13.3" letter-spacing="0.42" fill="#595959">januari</text>
<text transform="translate(97.49,390.6) rotate(-90)" text-anchor="end" font-size="13.3" letter-spacing="0.42" fill="#595959">april</text>
<text transform="translate(117.88,390.6) rotate(-90)" text-anchor="end" font-size="13.3" letter-spacing="0.42" fill="#595959">juli</text>
<text transform="translate(138.27,390.6) rotate(-90)" text-anchor="end" font-size="13.3" letter-spacing="0.42" fill="#595959">oktober</text>
<text transform="translate(158.66,390.6) rotate(-90)" text-anchor="end" font-size="13.3" letter-spacing="0.42" fill="#595959">januari</text>
<text transform="translate(179.04,390.6) rotate(-90)" text-anchor="end" font-size="13.3" letter-spacing="0.42" fill="#595959">april</text>
<text transform="translate(199.43,390.6) rotate(-90)" text-anchor="end" font-size="13.3" letter-spacing="0.42" fill="#595959">juli</text>
<text transform="translate(219.82,390.6) rotate(-90)" text-anchor="end" font-size="13.3" letter-spacing="0.42" fill="#595959">oktober</text>
<text transform="translate(240.21,390.6) rotate(-90)" text-anchor="end" font-size="13.3" letter-spacing="0.42" fill="#595959">januari</text>
<text transform="translate(260.60,390.6) rotate(-90)" text-anchor="end" font-size="13.3" letter-spacing="0.42" fill="#595959">april</text>
<text transform="translate(280.99,390.6) rotate(-90)" text-anchor="end" font-size="13.3" letter-spacing="0.42" fill="#595959">juli</text>
<text transform="translate(301.38,390.6) rotate(-90)" text-anchor="end" font-size="13.3" letter-spacing="0.42" fill="#595959">oktober</text>
<text transform="translate(321.77,390.6) rotate(-90)" text-anchor="end" font-size="13.3" letter-spacing="0.42" fill="#595959">januari</text>
<text transform="translate(342.16,390.6) rotate(-90)" text-anchor="end" font-size="13.3" letter-spacing="0.42" fill="#595959">april</text>
<text transform="translate(362.55,390.6) rotate(-90)" text-anchor="end" font-size="13.3" letter-spacing="0.42" fill="#595959">juli</text>
<text transform="translate(382.94,390.6) rotate(-90)" text-anchor="end" font-size="13.3" letter-spacing="0.42" fill="#595959">oktober</text>
<text transform="translate(403.33,390.6) rotate(-90)" text-anchor="end" font-size="13.3" letter-spacing="0.42" fill="#595959">januari</text>
<text transform="translate(423.72,390.6) rotate(-90)" text-anchor="end" font-size="13.3" letter-spacing="0.42" fill="#595959">april</text>
<text transform="translate(444.11,390.6) rotate(-90)" text-anchor="end" font-size="13.3" letter-spacing="0.42" fill="#595959">juli</text>
<text transform="translate(464.49,390.6) rotate(-90)" text-anchor="end" font-size="13.3" letter-spacing="0.42" fill="#595959">oktober</text>
<text transform="translate(484.88,390.6) rotate(-90)" text-anchor="end" font-size="13.3" letter-spacing="0.42" fill="#595959">januari</text>
<text transform="translate(505.27,390.6) rotate(-90)" text-anchor="end" font-size="13.3" letter-spacing="0.42" fill="#595959">april</text>
<text transform="translate(525.66,390.6) rotate(-90)" text-anchor="end" font-size="13.3" letter-spacing="0.42" fill="#595959">juli</text>
<text transform="translate(546.05,390.6) rotate(-90)" text-anchor="end" font-size="13.3" letter-spacing="0.42" fill="#595959">oktober</text>
<text transform="translate(566.44,390.6) rotate(-90)" text-anchor="end" font-size="13.3" letter-spacing="0.42" fill="#595959">januari</text>
<text transform="translate(586.83,390.6) rotate(-90)" text-anchor="end" font-size="13.3" letter-spacing="0.42" fill="#595959">april</text>
<text transform="translate(607.22,390.6) rotate(-90)" text-anchor="end" font-size="13.3" letter-spacing="0.42" fill="#595959">juli</text>
<text transform="translate(627.61,390.6) rotate(-90)" text-anchor="end" font-size="13.3" letter-spacing="0.42" fill="#595959">oktober</text>
<text transform="translate(648.00,390.6) rotate(-90)" text-anchor="end" font-size="13.3" letter-spacing="0.42" fill="#595959">januari</text>
<text transform="translate(668.39,390.6) rotate(-90)" text-anchor="end" font-size="13.3" letter-spacing="0.42" fill="#595959">april</text>
<text transform="translate(688.78,390.6) rotate(-90)" text-anchor="end" font-size="13.3" letter-spacing="0.42" fill="#595959">juli</text>
<text transform="translate(709.17,390.6) rotate(-90)" text-anchor="end" font-size="13.3" letter-spacing="0.42" fill="#595959">oktober</text>
<text transform="translate(729.56,390.6) rotate(-90)" text-anchor="end" font-size="13.3" letter-spacing="0.42" fill="#595959">januari</text>
<text transform="translate(749.94,390.6) rotate(-90)" text-anchor="end" font-size="13.3" letter-spacing="0.42" fill="#595959">april</text>
<text transform="translate(770.33,390.6) rotate(-90)" text-anchor="end" font-size="13.3" letter-spacing="0.42" fill="#595959">juli</text>
<text transform="translate(790.72,390.6) rotate(-90)" text-anchor="end" font-size="13.3" letter-spacing="0.42" fill="#595959">oktober</text>
<text transform="translate(811.11,390.6) rotate(-90)" text-anchor="end" font-size="13.3" letter-spacing="0.42" fill="#595959">januari</text>
<text transform="translate(831.50,390.6) rotate(-90)" text-anchor="end" font-size="13.3" letter-spacing="0.42" fill="#595959">april</text>
<line x1="858.2" y1="241.0" x2="889.8" y2="241.0" stroke="#5387c6" stroke-width="4.0" stroke-linecap="round"/>
<text x="893.6" y="244.6" font-size="13" letter-spacing="0.3" fill="#595959">aardgas</text>
<line x1="858.2" y1="272.3" x2="889.8" y2="272.3" stroke="#92d050" stroke-width="4.0" stroke-linecap="round"/>
<text x="893.6" y="275.9" font-size="13" letter-spacing="0.3" fill="#595959">wind&amp;zon</text>
<line x1="858.2" y1="303.7" x2="889.8" y2="303.7" stroke="#000000" stroke-width="4.0" stroke-linecap="round"/>
<text x="893.6" y="307.3" font-size="13" letter-spacing="0.3" fill="#595959">kolen</text>
<line x1="858.2" y1="335.1" x2="889.8" y2="335.1" stroke="#f3c73c" stroke-width="4.0" stroke-linecap="round"/>
<text x="893.6" y="338.7" font-size="13" letter-spacing="0.3" fill="#595959">biomassa</text>
<line x1="858.2" y1="366.5" x2="889.8" y2="366.5" stroke="#c00000" stroke-width="4.0" stroke-linecap="round"/>
<text x="893.6" y="370.1" font-size="13" letter-spacing="0.3" fill="#595959">kernenergie</text>
</svg>
<div class="title t1">Aandeel kolen, aardgas, kernenergie, biomassa en wind&amp;zon in de NL</div>
<div class="title t2">elektriciteits<u>productie</u>mix (gegevens per maand)</div>
<div class="note">NB: genormaliseerd<br>op elektriciteits-<br>vraag; exclusief<br>import/export.<br>Telt dus niet op tot<br>100% !</div>
<div class="ent">Entrance</div>
<div class="src">databronnen: TenneT, ENTSOE, Energieopwek.nl</div>
</body></html>
